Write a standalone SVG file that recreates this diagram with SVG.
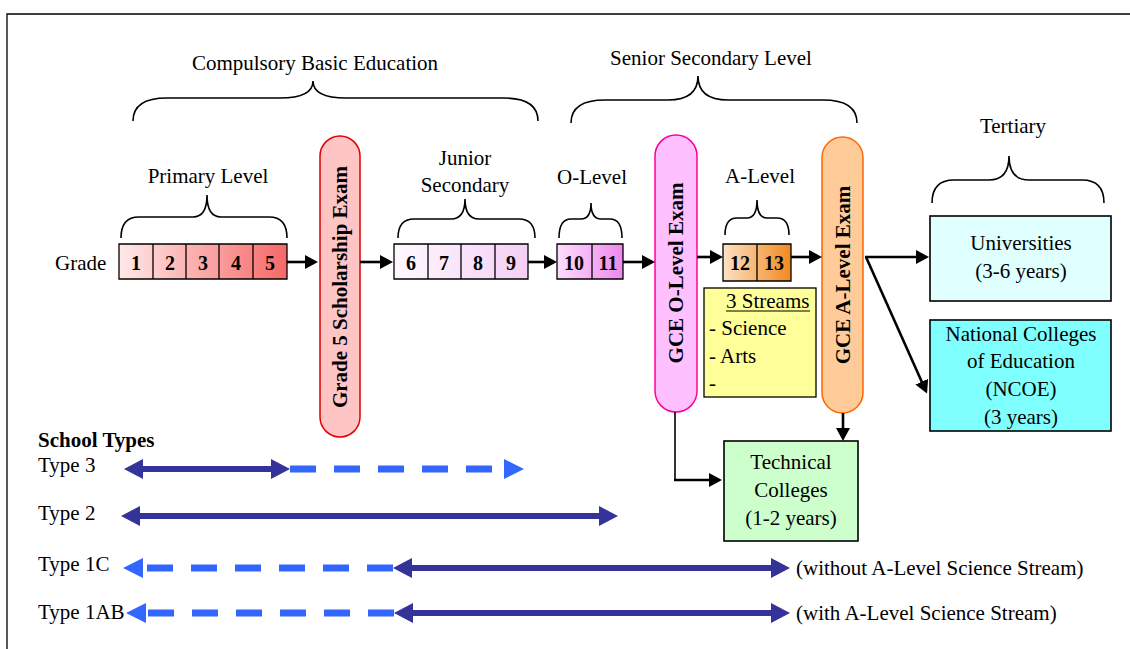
<svg xmlns="http://www.w3.org/2000/svg" width="1130" height="649" viewBox="0 0 1130 649">
<style>
text{font-family:"Liberation Serif","Times New Roman",serif;font-size:21px;fill:#000}
.b{font-weight:bold}
.m{text-anchor:middle}
.num{font-weight:bold;font-size:20px;text-anchor:middle}
.brace{fill:none;stroke:#000;stroke-width:1.6}
.cell{stroke:#000;stroke-width:1.3}
.arr{stroke:#000;stroke-width:2.6;fill:none;marker-end:url(#ah)}
.thin{stroke:#000;stroke-width:1.6;fill:none}
.dk{stroke:#333399;stroke-width:6;fill:none;marker-start:url(#dh);marker-end:url(#dh)}
.lb{stroke:#3366FF;stroke-width:7;fill:none;stroke-dasharray:26 18;marker-end:url(#lh)}
.box{stroke:#000;stroke-width:1.6}
</style>
<defs>
<marker id="ah" viewBox="0 0 13 14" refX="8" refY="7" markerWidth="13" markerHeight="14" markerUnits="userSpaceOnUse" orient="auto"><path d="M0,0 L13,7 L0,14 z" fill="#000"/></marker>
<marker id="dh" viewBox="0 0 19 20" refX="11" refY="10" markerWidth="19" markerHeight="20" markerUnits="userSpaceOnUse" orient="auto-start-reverse"><path d="M0,0 L19,10 L0,20 z" fill="#333399"/></marker>
<marker id="lh" viewBox="0 0 20 20" refX="0" refY="10" markerWidth="20" markerHeight="20" markerUnits="userSpaceOnUse" orient="auto"><path d="M0,0 L20,10 L0,20 z" fill="#3366FF"/></marker>
<linearGradient id="gP" gradientUnits="userSpaceOnUse" x1="119" y1="0" x2="287" y2="0"><stop offset="0" stop-color="#FFE9E9"/><stop offset="1" stop-color="#F76868"/></linearGradient>
<linearGradient id="gJ" gradientUnits="userSpaceOnUse" x1="394" y1="0" x2="528" y2="0"><stop offset="0" stop-color="#FFF8FF"/><stop offset="1" stop-color="#F4D0F4"/></linearGradient>
<linearGradient id="gO" gradientUnits="userSpaceOnUse" x1="557" y1="0" x2="623" y2="0"><stop offset="0" stop-color="#FCDDFC"/><stop offset="1" stop-color="#EE88EE"/></linearGradient>
<linearGradient id="gA" gradientUnits="userSpaceOnUse" x1="723" y1="0" x2="791" y2="0"><stop offset="0" stop-color="#FDE2C4"/><stop offset="1" stop-color="#F08A20"/></linearGradient>
</defs>
<rect width="1130" height="649" fill="#fff"/>
<path d="M7,649 L7,14 L1130,14" fill="none" stroke="#000" stroke-width="1.3"/>

<g id="labels">
<text class="m" x="315" y="70">Compulsory Basic Education</text>
<text class="m" x="711" y="65">Senior Secondary Level</text>
<text class="m" x="1013" y="133">Tertiary</text>
<text class="m" x="208" y="183">Primary Level</text>
<text class="m" x="465" y="165">Junior</text>
<text class="m" x="465" y="192">Secondary</text>
<text class="m" x="592" y="184">O-Level</text>
<text class="m" x="760" y="183">A-Level</text>
<text x="55" y="270">Grade</text>
</g>

<g id="braces">
<path class="brace" d="M133,121 Q133,98 167,98 L280,98 Q313,98 313,81 Q313,98 346,98 L504,98 Q538,98 538,121"/>
<path class="brace" d="M571,123 Q571,100 605,100 L668,100 Q698,100 698,76 Q698,100 728,100 L823,100 Q857,100 857,123"/>
<path class="brace" d="M121,238 Q121,217 139,217 L193,217 Q207,217 207,195 Q207,217 221,217 L269,217 Q287,217 287,238"/>
<path class="brace" d="M398,238 Q398,219 414,219 L451,219 Q465,219 465,199 Q465,219 479,219 L519,219 Q535,219 535,238"/>
<path class="brace" d="M559,238 Q559,219 571,219 L581,219 Q591,219 591,203 Q591,219 601,219 L610,219 Q622,219 622,238"/>
<path class="brace" d="M725,235 Q725,218 737,218 L747,218 Q757,218 757,200 Q757,218 767,218 L777,218 Q789,218 789,235"/>
<path class="brace" d="M932,203 Q932,180 954,180 L989,180 Q1009,180 1009,156 Q1009,180 1029,180 L1082,180 Q1104,180 1104,203"/>
</g>

<g id="primary">
<rect x="119" y="244" width="168" height="35" fill="url(#gP)"/>
<path class="cell" fill="none" d="M119,244 H287 V279 H119 Z M153,244 V279 M186,244 V279 M219,244 V279 M253,244 V279"/>
<text class="num" x="136" y="270">1</text><text class="num" x="170" y="270">2</text><text class="num" x="203" y="270">3</text><text class="num" x="236" y="270">4</text><text class="num" x="270" y="270">5</text>
</g>

<g id="junior">
<rect x="394" y="244" width="134" height="35" fill="url(#gJ)"/>
<path class="cell" fill="none" d="M394,244 H528 V279 H394 Z M428,244 V279 M461,244 V279 M495,244 V279"/>
<text class="num" x="411" y="270">6</text><text class="num" x="444" y="270">7</text><text class="num" x="478" y="270">8</text><text class="num" x="511" y="270">9</text>
</g>

<g id="olevel">
<rect x="557" y="244" width="66" height="35" fill="url(#gO)"/>
<path class="cell" fill="none" d="M557,244 H623 V279 H557 Z M592,244 V279"/>
<text class="num" x="574" y="270">10</text><text class="num" x="608" y="270">11</text>
</g>

<g id="alevel">
<rect x="723" y="244" width="68" height="37" fill="url(#gA)"/>
<path class="cell" fill="none" d="M723,244 H791 V281 H723 Z M757,244 V281"/>
<text class="num" x="740" y="270">12</text><text class="num" x="774" y="270">13</text>
</g>

<g id="grade5exam">
<rect x="320" y="136" width="40" height="301" rx="20" fill="#FFC4C4" stroke="#E00000" stroke-width="1.5"/>
<text class="b m" transform="translate(340,287) rotate(-90)" x="0" y="7">Grade 5 Scholarship Exam</text>
</g>

<g id="olevelexam">
<rect x="655" y="135" width="42" height="277" rx="21" fill="#FFC0FF" stroke="#FF0099" stroke-width="1.5"/>
<text class="b m" transform="translate(676,273) rotate(-90)" x="0" y="7">GCE O-Level Exam</text>
</g>

<g id="alevelexam">
<rect x="822" y="137" width="41" height="276" rx="20.5" fill="#FFCC99" stroke="#FF6600" stroke-width="1.5"/>
<text class="b m" transform="translate(843,275) rotate(-90)" x="0" y="7">GCE A-Level Exam</text>
</g>

<g id="streams">
<rect x="704" y="288" width="112" height="109" fill="#FFFF99" stroke="#000" stroke-width="1.3"/>
<text x="726" y="308">3 Streams</text>
<line x1="726" y1="311" x2="810" y2="311" stroke="#000" stroke-width="1.2"/>
<text x="709" y="335">- Science</text>
<text x="709" y="363">- Arts</text>
<text x="709" y="390">-</text>
</g>

<g id="universities">
<rect class="box" x="930" y="216" width="181" height="85" fill="#E0FFFF"/>
<text class="m" x="1021" y="250">Universities</text>
<text class="m" x="1021" y="278">(3-6 years)</text>
</g>

<g id="ncoe">
<rect class="box" x="930" y="320" width="181" height="111" fill="#80FFFF"/>
<text class="m" x="1021" y="341">National Colleges</text>
<text class="m" x="1021" y="368">of Education</text>
<text class="m" x="1021" y="396">(NCOE)</text>
<text class="m" x="1021" y="424">(3 years)</text>
</g>

<g id="technical">
<rect class="box" x="724" y="441" width="134" height="100" fill="#CCFFCC"/>
<text class="m" x="791" y="469">Technical</text>
<text class="m" x="791" y="497">Colleges</text>
<text class="m" x="791" y="525">(1-2 years)</text>
</g>

<g id="connectors">
<line class="arr" x1="287" y1="262" x2="313" y2="262"/>
<line class="arr" x1="360" y1="262" x2="388" y2="262"/>
<line class="arr" x1="528" y1="262" x2="552" y2="262"/>
<line class="arr" x1="623" y1="262" x2="650" y2="262"/>
<line class="arr" x1="697" y1="257" x2="718" y2="257"/>
<line class="arr" x1="791" y1="257" x2="817" y2="257"/>
<line class="arr" x1="865" y1="257" x2="924" y2="257"/>
<line class="arr" x1="866" y1="257" x2="925" y2="389"/>
<line class="thin" x1="675" y1="412" x2="675" y2="480"/>
<line class="arr" x1="674" y1="480" x2="717" y2="480"/>
<line class="arr" x1="843" y1="413" x2="843" y2="436"/>
</g>

<g id="schooltypes">
<text class="b" x="38" y="447">School Types</text>
<text x="38" y="472">Type 3</text>
<text x="38" y="520">Type 2</text>
<text x="38" y="571">Type 1C</text>
<text x="38" y="619">Type 1AB</text>
<text x="796" y="575">(without A-Level Science Stream)</text>
<text x="796" y="620">(with A-Level Science Stream)</text>
<line class="lb" x1="290" y1="469" x2="504" y2="469"/>
<line class="dk" x1="132" y1="469" x2="282" y2="469"/>
<line class="dk" x1="129" y1="516" x2="610" y2="516"/>
<line class="lb" x1="393" y1="568" x2="143" y2="568"/>
<line class="dk" x1="401" y1="568" x2="782" y2="568"/>
<line class="lb" x1="394" y1="613" x2="146" y2="613"/>
<line class="dk" x1="402" y1="613" x2="782" y2="613"/>
</g>
</svg>
